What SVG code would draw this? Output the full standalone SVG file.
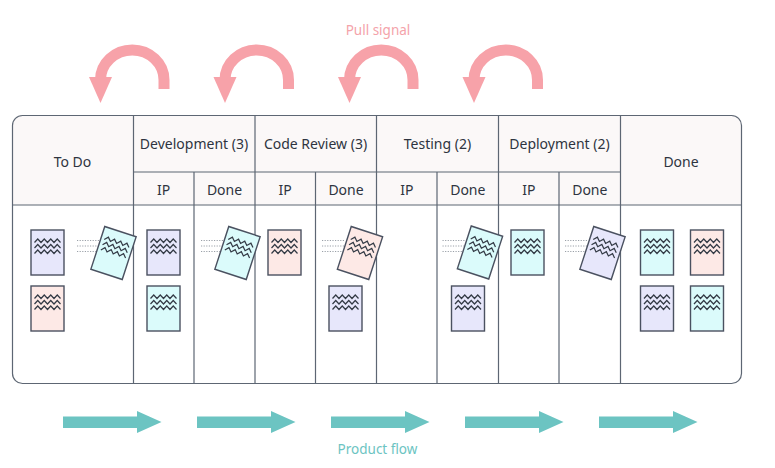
<svg xmlns="http://www.w3.org/2000/svg" xmlns:xlink="http://www.w3.org/1999/xlink" width="775" height="468" viewBox="0 0 775 468">
<style>
  .lbl{font-family:"Noto Sans","Open Sans",sans-serif;font-size:14px;fill:#2e3440;text-anchor:middle}
  .grid{stroke:#5d6673;stroke-width:1.2;fill:none}
  .card{stroke:#4a5160;stroke-width:1.4}
  .lav{fill:#e7e7fb}
  .pink{fill:#fde9e6}
  .cyan{fill:#dbfbfb}
  .wave{fill:none;stroke:#333a45;stroke-width:1.2;stroke-linejoin:miter}
  .dots{stroke:#9aa0a8;stroke-width:1;stroke-dasharray:1.2 1.4}
  .pull{fill:none;stroke:#f7a2a9;stroke-width:11}
  .pullhead{fill:#f7a2a9}
  .flow{fill:#6cc4c2}
  .note{font-family:"Noto Sans","Open Sans",sans-serif;font-size:13.5px;text-anchor:middle}
</style>
<defs>
  <g id="waves">
    <path class="wave" d="M-13,-10 l3.25,-3.5 l3.25,3.5 l3.25,-3.5 l3.25,3.5 l3.25,-3.5 l3.25,3.5 l3.25,-3.5 l3.25,3.5"/>
    <path class="wave" d="M-13,-4.5 l3.25,-3.5 l3.25,3.5 l3.25,-3.5 l3.25,3.5 l3.25,-3.5 l3.25,3.5 l3.25,-3.5 l3.25,3.5"/>
    <path class="wave" d="M-13,1 l3.25,-3.5 l3.25,3.5 l3.25,-3.5 l3.25,3.5 l3.25,-3.5 l3.25,3.5 l3.25,-3.5 l3.25,3.5"/>
  </g>
  <g id="dotlines">
    <line class="dots" x1="0" y1="0" x2="22" y2="0"/>
    <line class="dots" x1="0" y1="5.5" x2="22" y2="5.5"/>
    <line class="dots" x1="0" y1="11" x2="22" y2="11"/>
  </g>
</defs>
<rect width="775" height="468" fill="#ffffff"/>

<!-- board -->
<g id="board">
  <rect x="12.5" y="115.5" width="729" height="268" rx="10" fill="#ffffff"/>
  <path d="M12.5,205 V125.5 A10,10 0 0 1 22.5,115.5 H731.5 A10,10 0 0 1 741.5,125.5 V205 Z" fill="#fbf8f8"/>
  <rect class="grid" x="12.5" y="115.5" width="729" height="268" rx="10" stroke="#6b7380"/>
  <line class="grid" x1="12.5" y1="205" x2="741.5" y2="205"/>
  <line class="grid" x1="133.5" y1="172" x2="620.5" y2="172"/>
  <line class="grid" x1="133.5" y1="115.5" x2="133.5" y2="383.5"/>
  <line class="grid" x1="255" y1="115.5" x2="255" y2="383.5"/>
  <line class="grid" x1="376.5" y1="115.5" x2="376.5" y2="383.5"/>
  <line class="grid" x1="498.5" y1="115.5" x2="498.5" y2="383.5"/>
  <line class="grid" x1="620.5" y1="115.5" x2="620.5" y2="383.5"/>
  <line class="grid" x1="194" y1="172" x2="194" y2="383.5"/>
  <line class="grid" x1="315.5" y1="172" x2="315.5" y2="383.5"/>
  <line class="grid" x1="437" y1="172" x2="437" y2="383.5"/>
  <line class="grid" x1="559" y1="172" x2="559" y2="383.5"/>
</g>

<g id="col-todo"><text class="lbl" x="72.5" y="167">To Do</text></g>
<g id="col-development">
  <text class="lbl" x="194" y="149">Development (3)</text>
  <text class="lbl" x="163.7" y="195">IP</text>
  <text class="lbl" x="224.5" y="195">Done</text>
</g>
<g id="col-codereview">
  <text class="lbl" x="315.5" y="149">Code Review (3)</text>
  <text class="lbl" x="285.2" y="195">IP</text>
  <text class="lbl" x="346" y="195">Done</text>
</g>
<g id="col-testing">
  <text class="lbl" x="437.5" y="149">Testing (2)</text>
  <text class="lbl" x="406.8" y="195">IP</text>
  <text class="lbl" x="467.8" y="195">Done</text>
</g>
<g id="col-deployment">
  <text class="lbl" x="559.5" y="149">Deployment (2)</text>
  <text class="lbl" x="528.8" y="195">IP</text>
  <text class="lbl" x="589.8" y="195">Done</text>
</g>
<g id="col-done"><text class="lbl" x="681" y="167">Done</text></g>

<!-- cards -->
<g id="card-todo-1" transform="translate(47.5,252.5)"><rect class="card lav" x="-16.5" y="-22.5" width="33" height="45"/><use xlink:href="#waves"/></g>
<g id="card-todo-2" transform="translate(47.5,308.5)"><rect class="card pink" x="-16.5" y="-22.5" width="33" height="45"/><use xlink:href="#waves"/></g>
<g id="card-todo-moving">
  <use xlink:href="#dotlines" transform="translate(77,240.5)"/>
  <g transform="translate(113.5,253) rotate(18)"><rect class="card cyan" x="-16.5" y="-22.5" width="33" height="45"/><use xlink:href="#waves"/></g>
</g>
<g id="card-dev-ip-1" transform="translate(163.5,252.5)"><rect class="card lav" x="-16.5" y="-22.5" width="33" height="45"/><use xlink:href="#waves"/></g>
<g id="card-dev-ip-2" transform="translate(163.5,308.5)"><rect class="card cyan" x="-16.5" y="-22.5" width="33" height="45"/><use xlink:href="#waves"/></g>
<g id="card-dev-done-moving">
  <use xlink:href="#dotlines" transform="translate(201,240.5)"/>
  <g transform="translate(237.5,253) rotate(18)"><rect class="card cyan" x="-16.5" y="-22.5" width="33" height="45"/><use xlink:href="#waves"/></g>
</g>
<g id="card-cr-ip-1" transform="translate(284.5,252.5)"><rect class="card pink" x="-16.5" y="-22.5" width="33" height="45"/><use xlink:href="#waves"/></g>
<g id="card-cr-done-moving">
  <use xlink:href="#dotlines" transform="translate(322,240.5)"/>
  <g transform="translate(360,253) rotate(18)"><rect class="card pink" x="-16.5" y="-22.5" width="33" height="45"/><use xlink:href="#waves"/></g>
</g>
<g id="card-cr-done-1" transform="translate(345.5,308.5)"><rect class="card lav" x="-16.5" y="-22.5" width="33" height="45"/><use xlink:href="#waves"/></g>
<g id="card-test-done-moving">
  <use xlink:href="#dotlines" transform="translate(442.5,240.5)"/>
  <g transform="translate(480,252.5) rotate(18)"><rect class="card cyan" x="-16.5" y="-22.5" width="33" height="45"/><use xlink:href="#waves"/></g>
</g>
<g id="card-test-done-1" transform="translate(468,308.5)"><rect class="card lav" x="-16.5" y="-22.5" width="33" height="45"/><use xlink:href="#waves"/></g>
<g id="card-dep-ip-1" transform="translate(527.5,252.5)"><rect class="card cyan" x="-16.5" y="-22.5" width="33" height="45"/><use xlink:href="#waves"/></g>
<g id="card-dep-done-moving">
  <use xlink:href="#dotlines" transform="translate(565,240.5)"/>
  <g transform="translate(602.5,253) rotate(18)"><rect class="card lav" x="-16.5" y="-22.5" width="33" height="45"/><use xlink:href="#waves"/></g>
</g>
<g id="card-done-1" transform="translate(657,252.5)"><rect class="card cyan" x="-16.5" y="-22.5" width="33" height="45"/><use xlink:href="#waves"/></g>
<g id="card-done-2" transform="translate(707,252.5)"><rect class="card pink" x="-16.5" y="-22.5" width="33" height="45"/><use xlink:href="#waves"/></g>
<g id="card-done-3" transform="translate(657,308.5)"><rect class="card lav" x="-16.5" y="-22.5" width="33" height="45"/><use xlink:href="#waves"/></g>
<g id="card-done-4" transform="translate(707,308.5)"><rect class="card cyan" x="-16.5" y="-22.5" width="33" height="45"/><use xlink:href="#waves"/></g>

<!-- connectors -->
<g id="connectors">
  <g id="pull-signals">
    <path class="pull" d="M164,89 V80 A31.75,30 0 0 0 100.5,80"/>
    <polygon class="pullhead" points="89,77 112,77 100.5,103"/>
    <path class="pull" d="M288.5,89 V80 A31.75,30 0 0 0 225,80"/>
    <polygon class="pullhead" points="213.5,77 236.5,77 225,103"/>
    <path class="pull" d="M413,89 V80 A31.75,30 0 0 0 349.5,80"/>
    <polygon class="pullhead" points="338,77 361,77 349.5,103"/>
    <path class="pull" d="M537.5,89 V80 A31.75,30 0 0 0 474,80"/>
    <polygon class="pullhead" points="462.5,77 485.5,77 474,103"/>
  </g>
  <g id="product-flow">
    <path class="flow" d="M63,416.5 H137 V411 L161.5,422 L137,433 V428 H63 Z"/>
    <path class="flow" d="M197,416.5 H271 V411 L295.5,422 L271,433 V428 H197 Z"/>
    <path class="flow" d="M331,416.5 H405 V411 L429.5,422 L405,433 V428 H331 Z"/>
    <path class="flow" d="M465,416.5 H539 V411 L563.5,422 L539,433 V428 H465 Z"/>
    <path class="flow" d="M599,416.5 H673 V411 L697.5,422 L673,433 V428 H599 Z"/>
  </g>
</g>

<text class="note" x="378" y="35" fill="#f4a3aa">Pull signal</text>
<text class="note" x="377.5" y="454" fill="#6cc4c2">Product flow</text>
</svg>
